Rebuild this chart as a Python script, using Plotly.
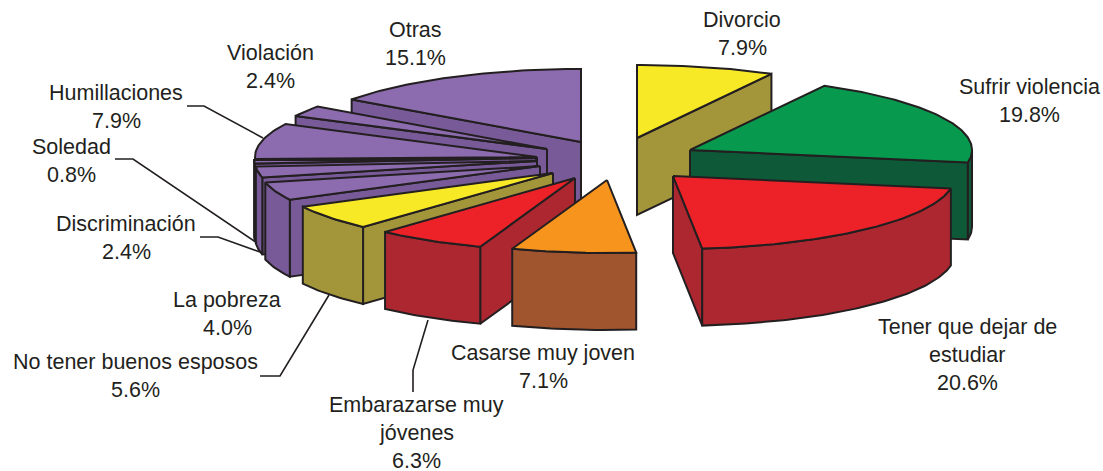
import numpy as np
import plotly.graph_objects as go

# slices, clockwise from 12 o'clock
labels = ["Divorcio", "Sufrir violencia", "Tener que dejar de<br>estudiar", "Casarse muy joven",
          "Embarazarse muy<br>jóvenes", "No tener buenos esposos", "La pobreza", "Discriminación",
          "Soledad", "Humillaciones", "Violación", "Otras"]
values = [7.9, 19.8, 20.6, 7.1, 6.3, 5.6, 4.0, 2.4, 0.8, 7.9, 2.4, 15.1]

top_colors = ["#F7E926", "#079A4E", "#ED2229", "#F7941E", "#ED2229", "#F7E926",
              "#8C6CAE", "#8C6CAE", "#8C6CAE", "#8C6CAE", "#8C6CAE", "#8C6CAE"]
side_colors = ["#A3963A", "#0E5A38", "#AD2730", "#A0552F", "#AD2730", "#A3963A",
               "#775A97", "#775A97", "#775A97", "#775A97", "#775A97", "#775A97"]

# exploded tip of each slice on the page
tip_x = [637, 690, 673, 607, 575, 553, 540, 537, 536, 537, 547, 581]
tip_y = [138, 150, 176, 180, 178, 173, 166, 161, 158, 157, 149, 142]

# label centres, first line
label_x = [742, 1029, 967, 543, 416, 135, 227, 126, 71, 116, 270, 415]
label_y = [20, 87, 327, 353, 405, 362, 300, 224, 147, 93, 53, 30]

# leader lines
leaders = [
    ([187, 204, 263], [106, 106, 138]),
    ([115, 133, 257], [159, 159, 243]),
    ([200, 218, 260], [237, 237, 252]),
    ([260, 280, 329], [376, 376, 295]),
    ([413, 413, 428], [392, 370, 320]),
]

RX, RY, DEPTH = 282, 73, 77
INK = "#231F20"
LINE_H = 28

fractions = np.array(values) / sum(values)
edges = np.concatenate([[0], np.cumsum(fractions)]) * 2 * np.pi


def rim(cx, cy, a0, a1):
    n = max(int(np.degrees(a1 - a0)), 2) + 1
    a = np.linspace(a0, a1, n)
    return cx + RX * np.sin(a), cy - RY * np.cos(a)


def poly(fig, xs, ys, color):
    fig.add_trace(go.Scatter(x=list(xs), y=list(ys), mode="lines", fill="toself", fillcolor=color,
                             line=dict(color=INK, width=2), hoverinfo="skip", showlegend=False))


def radial_face(fig, cx, cy, a, color):
    px, py = cx + RX * np.sin(a), cy - RY * np.cos(a)
    poly(fig, [cx, px, px, cx, cx], [cy, py, py + DEPTH, cy + DEPTH, cy], color)


fig = go.Figure()

# back to front: right group, then left group from Otras round to Casarse
for i in [0, 1, 2] + list(range(11, 2, -1)):
    a0, a1 = edges[i], edges[i + 1]
    cx, cy = tip_x[i], tip_y[i]

    # cut faces, only those turned to the viewer
    if np.sin(a0) < -1e-6:
        radial_face(fig, cx, cy, a0, side_colors[i])
    if np.sin(a1) > 1e-6:
        radial_face(fig, cx, cy, a1, side_colors[i])

    # outer wall on the front half
    f0, f1 = max(a0, np.pi / 2), min(a1, 3 * np.pi / 2)
    if f1 > f0:
        xs, ys = rim(cx, cy, f0, f1)
        poly(fig, np.r_[xs, xs[::-1], xs[0]], np.r_[ys, ys[::-1] + DEPTH, ys[0]], side_colors[i])

    # top
    xs, ys = rim(cx, cy, a0, a1)
    poly(fig, np.r_[cx, xs, cx], np.r_[cy, ys, cy], top_colors[i])

for lx, ly in leaders:
    fig.add_trace(go.Scatter(x=lx, y=ly, mode="lines", line=dict(color=INK, width=1.6),
                             hoverinfo="skip", showlegend=False))

for name, v, x, y in zip(labels, values, label_x, label_y):
    lines = name.split("<br>") + [f"{v:.1f}%"]
    for k, line in enumerate(lines):
        fig.add_annotation(x=x, y=y + k * LINE_H, text=line, showarrow=False, xanchor="center",
                           yanchor="middle", font=dict(family="Liberation Sans", size=21.5, color=INK))

fig.update_layout(
    width=1103, height=471,
    margin=dict(l=0, r=0, t=0, b=0),
    paper_bgcolor="white", plot_bgcolor="white",
    xaxis=dict(range=[0, 1103], visible=False, fixedrange=True),
    yaxis=dict(range=[471, 0], visible=False, fixedrange=True),
)

# the page's default body margin would shift everything by 8px
fig.write_html("out.html", config=dict(displayModeBar=False),
               post_script="document.body.style.margin='0';document.body.style.overflow='hidden';")
